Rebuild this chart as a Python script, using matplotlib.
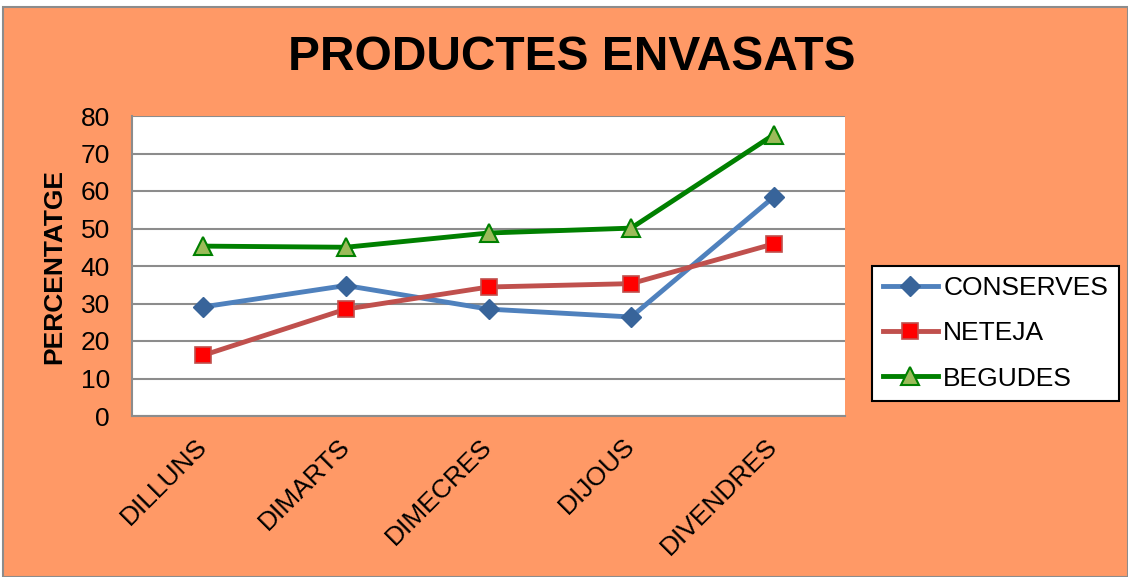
import matplotlib
matplotlib.use("Agg")
import matplotlib.pyplot as plt
from matplotlib.patches import Rectangle

plt.rcParams['font.family'] = ['Liberation Sans', 'DejaVu Sans']

days = ["DILLUNS", "DIMARTS", "DIMECRES", "DIJOUS", "DIVENDRES"]
conserves = [29.1, 34.8, 28.5, 26.4, 58.4]
neteja = [16.2, 28.5, 34.4, 35.3, 45.9]
begudes = [45.3, 45.0, 48.8, 50.1, 75.0]
yticks = [0, 10, 20, 30, 40, 50, 60, 70, 80]

W, H = 1128, 577
fig = plt.figure(figsize=(W/100, H/100), dpi=100, facecolor='white')
fig.patches.append(Rectangle((3/W, 0), 1 - 3/W, (H - 7)/H, transform=fig.transFigure,
                             facecolor='#FF9966', edgecolor='#8c8c8c', linewidth=1.5, zorder=-10))

ax = fig.add_axes([132/W, (H-416)/H, (845-132)/W, 300/H])
ax.set_facecolor('white')
x = list(range(len(days)))

ax.plot(x, conserves, color='#4F81BD', lw=3.5, marker='D', ms=10,
        mfc='#38649A', mec='#38649A', label='CONSERVES', zorder=3)
ax.plot(x, neteja, color='#C0504D', lw=3.5, marker='s', ms=11,
        mfc='#FF0000', mec='#C0504D', mew=1.2, label='NETEJA', zorder=3)
ax.plot(x, begudes, color='#008000', lw=3.5, marker='^', ms=13,
        mfc='#9BBB59', mec='#008000', mew=1.5, label='BEGUDES', zorder=3)

ax.set_xlim(-0.5, 4.5)
ax.set_ylim(0, 80)
ax.set_yticks(yticks)
ax.set_yticklabels([str(v) for v in yticks], fontsize=19)
ax.set_xticks(x)
ax.set_xticklabels(days, fontsize=19, rotation=45, ha='right', va='center',
                   rotation_mode='anchor')
ax.tick_params(axis='y', length=0, pad=16)
ax.tick_params(axis='x', length=0, pad=19)
ax.grid(axis='y', color='#8c8c8c', lw=1.5)
ax.set_axisbelow(True)
for s in ['top', 'right']:
    ax.spines[s].set_visible(False)
for s in ['left', 'bottom']:
    ax.spines[s].set_color('#8c8c8c')
    ax.spines[s].set_linewidth(1.5)

ax.set_ylabel('PERCENTATGE', fontsize=19, fontweight='bold', labelpad=10)

fig.text(572/W, 1 - 57/H, 'PRODUCTES ENVASATS', fontsize=34.5, fontweight='bold',
         ha='center', va='center')

leg = fig.legend(loc='center left', bbox_to_anchor=(872/W, 1 - 333.5/H), fontsize=19,
                 frameon=True, fancybox=False, edgecolor='black', framealpha=1,
                 handlelength=2.1, handletextpad=0.2, labelspacing=0.8, borderpad=0.4,
                 borderaxespad=0)
leg.get_frame().set_linewidth(1.5)

fig.savefig('out.png', dpi=100, facecolor=fig.get_facecolor())
